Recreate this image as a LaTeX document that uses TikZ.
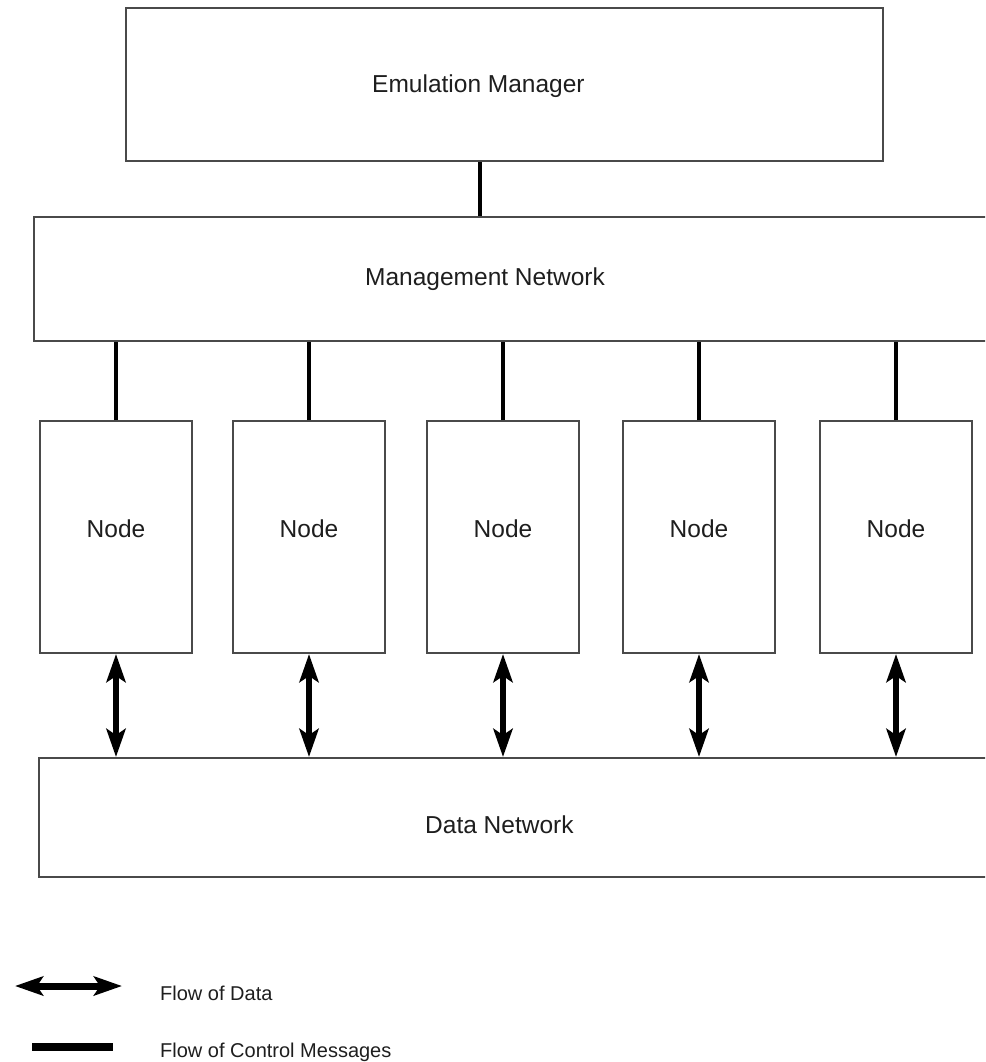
\documentclass[tikz,border=0pt]{standalone}
\usepackage{fontspec}
\setmainfont{Liberation Sans}
\usetikzlibrary{arrows.meta}
\definecolor{boxline}{HTML}{4A4A4A}
\definecolor{ink}{HTML}{1E1E1E}
\begin{document}
\begin{tikzpicture}[x=1pt,y=-1pt,
  box/.style={draw=boxline, line width=2pt, fill=white, inner sep=0pt, anchor=north west},
  bigtext/.style={text=ink, font=\fontsize{24.5}{28}\selectfont, inner sep=0pt, anchor=base west},
  nodetext/.style={text=ink, font=\fontsize{24.5}{28}\selectfont, inner sep=0pt, anchor=base},
  legtext/.style={text=ink, font=\fontsize{20}{24}\selectfont, inner sep=0pt, anchor=base west},
  ctrl/.style={line width=4.5pt, black},
  dataflow/.style={line width=6pt, black, {Stealth[length=28pt,width=19pt,inset=6pt]}-{Stealth[length=28pt,width=19pt,inset=6pt]}},
]
\useasboundingbox (0,0) rectangle (985,1062);
\clip (0,0) rectangle (985,1062);

% boxes
\node[box, minimum width=757pt, minimum height=153pt] (em) at (125,7) {};
\node[box, minimum width=965pt, minimum height=124pt] (mgmt) at (33,216) {};
\node[box, minimum width=965pt, minimum height=119pt] (data) at (38,757) {};
\foreach \i/\x in {1/39, 2/232, 3/426, 4/622, 5/819}
  \node[box, minimum width=152pt, minimum height=232pt] (n\i) at (\x,420) {};

% labels
\node[bigtext] (emtext) at (372,93) {Emulation Manager};
\node[bigtext] (mgmttext) at (365,285) {Management Network};
\node[bigtext] (datatext) at (425,833) {Data Network};
\foreach \i in {1,...,5}
  \node[nodetext] (n\i text) at (n\i.center |- 0,537) {Node};

% control message links
\coordinate (emlink) at (480,0);
\draw[ctrl] (emlink |- em.south) -- (emlink |- mgmt.north);
\foreach \i in {1,...,5}
  \draw[ctrl] (n\i.north) -- (n\i.north |- mgmt.south);

% data flow links
\foreach \i in {1,...,5}
  \draw[dataflow] (n\i.south) -- (n\i.south |- data.north);

% legend
\coordinate (legA) at (15,986);
\coordinate (legB) at (122,986);
\draw[dataflow, line width=7pt] (legA) -- (legB);
\node[legtext] (legdata) at (160,1000) {Flow of Data};
\coordinate (legC) at (32,1047);
\coordinate (legD) at (113,1047);
\draw[ctrl, line width=7.5pt] (legC) -- (legD);
\node[legtext] (legctrl) at (160,1057) {Flow of Control Messages};
\end{tikzpicture}
\end{document}
